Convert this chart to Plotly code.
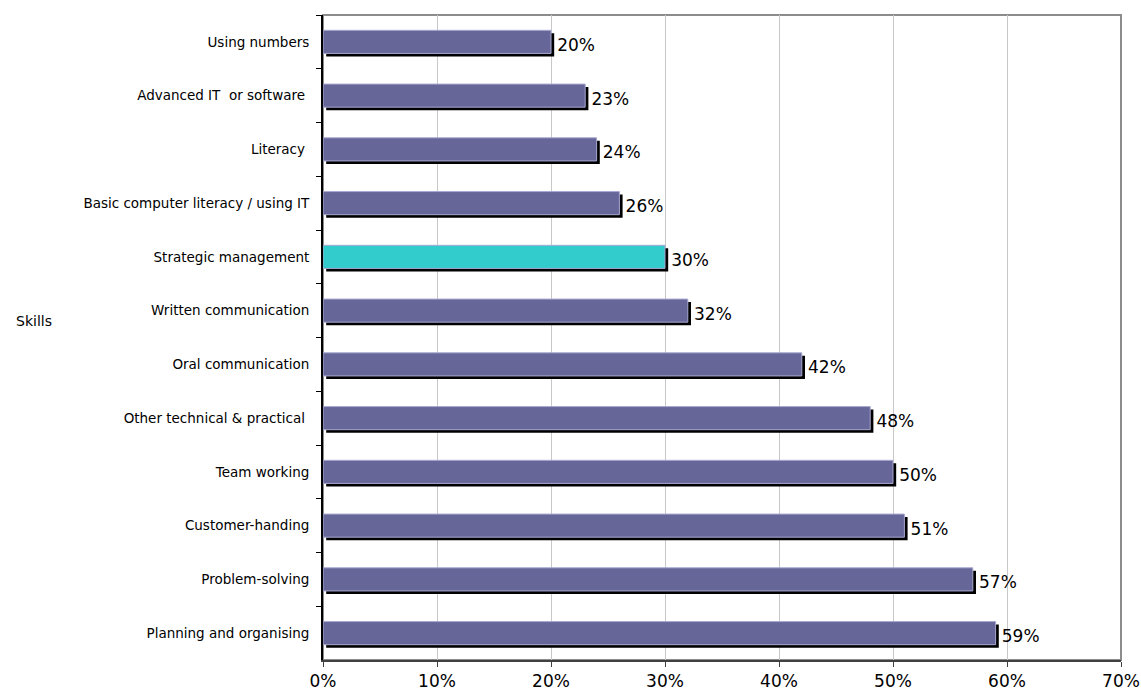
import plotly.graph_objects as go

# Skills, listed top to bottom
skills = [
    "Using numbers",
    "Advanced IT\u00a0 or software\u00a0",
    "Literacy\u00a0",
    "Basic computer literacy / using IT",
    "Strategic management",
    "Written communication",
    "Oral communication",
    "Other technical & practical\u00a0",
    "Team working",
    "Customer-handing",
    "Problem-solving",
    "Planning and organising",
]
shares = [20, 23, 24, 26, 30, 32, 42, 48, 50, 51, 57, 59]
highlight = "Strategic management"

bar_color = "#666699"
hi_color = "#33CCCC"
colors = [hi_color if s == highlight else bar_color for s in skills]
labels = [f"{v}%" for v in shares]

bar_w = 0.43
shadow_shift = 0.056  # in category units
shadow_base = 0.28    # in percent units

fig = go.Figure()

# drop shadow behind each bar
fig.add_trace(go.Bar(
    y=skills, x=shares, base=shadow_base, orientation="h",
    width=bar_w, offset=-bar_w / 2 + shadow_shift,
    marker=dict(color="black", line=dict(width=0)),
    text=labels, textposition="outside", cliponaxis=False,
    textfont=dict(family="DejaVu Sans", size=17, color="black"),
    hoverinfo="skip", showlegend=False,
))

# main bars
fig.add_trace(go.Bar(
    y=skills, x=shares, orientation="h",
    width=bar_w, offset=-bar_w / 2,
    marker=dict(color=colors, line=dict(width=1, color="#a8a8d0")),
    hoverinfo="skip", showlegend=False,
))

ml, mr, mt, mb = 323, 20, 15, 34
plot_w = 1141 - ml - mr
plot_h = 694 - mt - mb

fig.update_layout(
    width=1141, height=694,
    margin=dict(l=ml, r=mr, t=mt, b=mb, autoexpand=False),
    paper_bgcolor="white", plot_bgcolor="white",
    barmode="overlay",
    font=dict(family="DejaVu Sans", color="black"),
    shapes=[dict(type="rect", xref="paper", yref="paper", x0=0, y0=0, x1=1, y1=1,
                 line=dict(color="#8c8c8c", width=2), layer="below")],
    annotations=[dict(text="Skills", xref="paper", yref="paper",
                      x=(14 - ml) / plot_w, y=(660 - 321) / plot_h,
                      xanchor="left", yanchor="middle", showarrow=False,
                      font=dict(size=14, family="DejaVu Sans", color="black"))],
)

fig.update_xaxes(
    range=[0, 70], dtick=10, ticksuffix="%",
    showgrid=True, gridcolor="#c8c8c8", gridwidth=1,
    showline=True, linecolor="#404040", linewidth=2,
    ticks="outside", ticklen=5, tickcolor="#404040",
    tickfont=dict(size=17, family="DejaVu Sans"),
    zeroline=False, fixedrange=True, automargin=False,
)

fig.update_yaxes(
    autorange="reversed", categoryorder="array", categoryarray=skills,
    showline=True, linecolor="black", linewidth=2,
    ticks="outside", ticklen=5, tickcolor="black", tickson="boundaries",
    tickfont=dict(size=13.5, family="DejaVu Sans"),
    ticklabelstandoff=9,
    showgrid=False, fixedrange=True, automargin=False,
)

fig.write_html("out.html")
